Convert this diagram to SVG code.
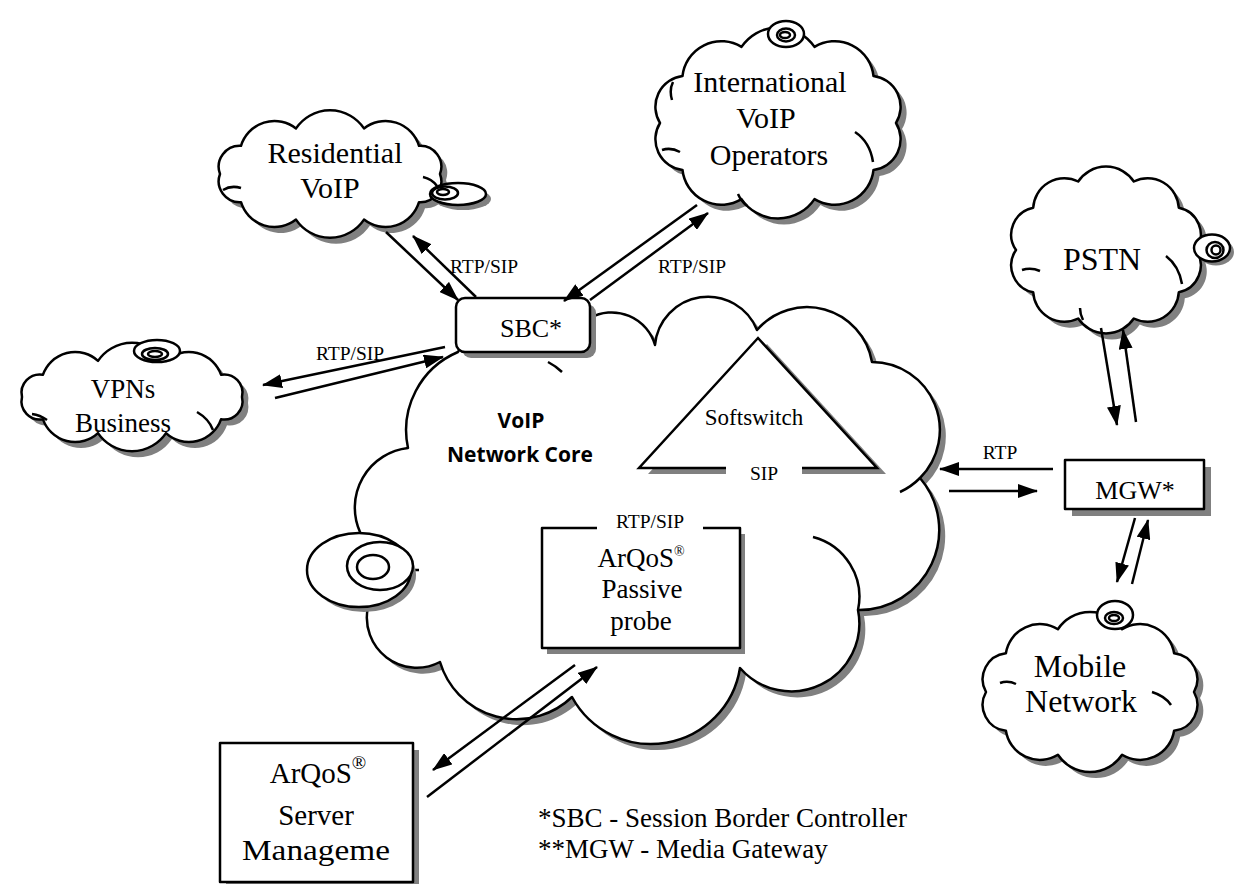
<svg xmlns="http://www.w3.org/2000/svg" xmlns:xlink="http://www.w3.org/1999/xlink" width="1238" height="884" viewBox="0 0 1238 884">
<style>
.w{fill:#fff;stroke:#000;stroke-width:2.5;stroke-linejoin:round}
.sh{fill:#808080;stroke:none}
.ln{stroke:#000;stroke-width:2.5;fill:none}
.lnA{stroke:#000;stroke-width:2.5;fill:none;marker-end:url(#ah)}
.t{font-family:"Liberation Serif","Times New Roman",serif;fill:#000;text-anchor:middle}
.b{font-family:"Open Sans","DejaVu Sans",sans-serif;font-weight:700;fill:#000;text-anchor:middle}
</style>
<defs>
<marker id="ah" viewBox="0 0 20 14" refX="19" refY="7" markerWidth="20" markerHeight="14" markerUnits="userSpaceOnUse" orient="auto"><path d="M0,0 L20,7 L0,14 Z" fill="#000"/></marker>
<path id="c-core" d="M590,318 A45 45 0 0 1 655,345 A53 53 0 0 1 757,330 A66 66 0 0 1 872,362 A68 68 0 0 1 920,478 A80 80 0 0 1 858,610 A68 68 0 0 1 740,668 A90 90 0 0 1 572,697 A80 80 0 0 1 440,662 A50 50 0 0 1 368,607 L360,532 A60 60 0 0 1 408,448 A85 85 0 0 1 458,352 L470,330 Z"/>
<path id="c-res" d="M440,174 A21 21 0 0 1 419,202.2 A35 35 0 0 1 364,219.6 A41 41 0 0 1 296,219.6 A35 35 0 0 1 241,202.2 A21 21 0 0 1 220,174 A21 21 0 0 1 241,145.8 A35 35 0 0 1 296,128.4 A41 41 0 0 1 364,128.4 A35 35 0 0 1 419,145.8 A21 21 0 0 1 440,174 Z"/>
<path id="c-int" d="M896,123 A31 31 0 0 1 873.5,170 A39 39 0 0 1 814.5,199.1 A44 44 0 0 1 741.5,199.1 A39 39 0 0 1 682.5,170 A31 31 0 0 1 660,123 A31 31 0 0 1 682.5,76 A39 39 0 0 1 741.5,46.9 A44 44 0 0 1 814.5,46.9 A39 39 0 0 1 873.5,76 A31 31 0 0 1 896,123 Z"/>
<path id="c-vpn" d="M242,397 A18.4 18.4 0 0 1 221,419.3 A34 34 0 0 1 166,433.1 A41 41 0 0 1 98,433.1 A34 34 0 0 1 43,419.3 A18.4 18.4 0 0 1 22,397 A18.4 18.4 0 0 1 43,374.7 A34 34 0 0 1 98,360.9 A41 41 0 0 1 166,360.9 A34 34 0 0 1 221,374.7 A18.4 18.4 0 0 1 242,397 Z"/>
<path id="c-pstn" d="M1196,250 A27.4 27.4 0 0 1 1178.8,292.3 A31.2 31.2 0 0 1 1133.8,318.5 A33.4 33.4 0 0 1 1078.2,318.5 A31.2 31.2 0 0 1 1033.2,292.3 A27.4 27.4 0 0 1 1016,250 A27.4 27.4 0 0 1 1033.2,207.7 A31.2 31.2 0 0 1 1078.2,181.5 A33.4 33.4 0 0 1 1133.8,181.5 A31.2 31.2 0 0 1 1178.8,207.7 A27.4 27.4 0 0 1 1196,250 Z"/>
<path id="c-mob" d="M1194,692 A26.2 26.2 0 0 1 1174.1,730.8 A34.4 34.4 0 0 1 1122.1,754.8 A38.5 38.5 0 0 1 1057.9,754.8 A34.4 34.4 0 0 1 1005.9,730.8 A26.2 26.2 0 0 1 986,692 A26.2 26.2 0 0 1 1005.9,653.2 A34.4 34.4 0 0 1 1057.9,629.2 A38.5 38.5 0 0 1 1122.1,629.2 A34.4 34.4 0 0 1 1174.1,653.2 A26.2 26.2 0 0 1 1194,692 Z"/>
</defs>
<rect width="1238" height="884" fill="#fff"/>

<g id="core">
<use xlink:href="#c-core" href="#c-core" class="sh" transform="translate(6,6)"/>
<use xlink:href="#c-core" href="#c-core" class="w"/>
<path class="ln" d="M548,362 A60 60 0 0 1 562,372 M813,537 A62 62 0 0 1 858,610 M920,478 A68 68 0 0 1 900,492 M411,570 L419,570"/>
<ellipse class="sh" cx="364" cy="575" rx="52" ry="37"/>
<ellipse class="w" cx="359" cy="570" rx="52" ry="37"/>
<ellipse class="w" cx="380" cy="566" rx="33" ry="24"/>
<ellipse class="w" cx="373" cy="567" rx="16" ry="12"/>
<text class="b" x="521" y="428" font-size="21">VoIP</text>
<text class="b" x="520" y="462" font-size="21">Network Core</text>
</g>

<g id="softswitch">
<polygon class="sh" points="767,344 886,474 648,474"/>
<polygon points="758,338 877,468 639,468" fill="#fff"/>
<rect x="726" y="462" width="76" height="18" fill="#fff"/>
<polyline class="ln" points="726,468 639,468 758,338 877,468 802,468"/>
<text class="t" x="754" y="425" font-size="23">Softswitch</text>
<text class="t" x="764" y="480" font-size="19.5">SIP</text>
</g>

<g id="residential">
<use xlink:href="#c-res" href="#c-res" class="sh" transform="translate(6,6)"/>
<use xlink:href="#c-res" href="#c-res" class="w"/>
<path class="ln" d="M223,190 Q231,185 241,188 M423,177 Q432,179 437,186"/>
<ellipse class="sh" cx="463" cy="199" rx="28" ry="11"/>
<ellipse class="w" cx="458" cy="194" rx="28" ry="11"/>
<ellipse class="w" cx="445" cy="193" rx="13" ry="6.5"/>
<ellipse class="w" cx="443" cy="192" rx="6" ry="3"/>
<text class="t" x="335" y="163" font-size="30">Residential</text>
<text class="t" x="330" y="198" font-size="30">VoIP</text>
</g>

<g id="international">
<use xlink:href="#c-int" href="#c-int" class="sh" transform="translate(6,6)"/>
<use xlink:href="#c-int" href="#c-int" class="w"/>
<path class="ln" d="M855,132 Q870,142 873,162 M662,150 Q671,147 680,152 M738,194 Q741,201 747,206 M672,100 Q669,90 673,82"/>
<ellipse class="w" cx="786" cy="34" rx="18" ry="13"/>
<ellipse class="w" cx="786" cy="35" rx="9" ry="6.5"/>
<ellipse class="w" cx="785" cy="35" rx="5" ry="3"/>
<text class="t" x="770" y="92" font-size="30">International</text>
<text class="t" x="766" y="128" font-size="30">VoIP</text>
<text class="t" x="769" y="165" font-size="30">Operators</text>
</g>

<g id="vpns">
<use xlink:href="#c-vpn" href="#c-vpn" class="sh" transform="translate(6,6)"/>
<use xlink:href="#c-vpn" href="#c-vpn" class="w"/>
<path class="ln" d="M197,412 Q209,419 213,430 M32,414 Q40,415 47,420"/>
<ellipse class="w" cx="157" cy="351" rx="23" ry="11"/>
<ellipse class="w" cx="155" cy="354" rx="13" ry="6"/>
<ellipse class="w" cx="155" cy="354" rx="7" ry="3"/>
<text class="t" x="123" y="398" font-size="27">VPNs</text>
<text class="t" x="123" y="432" font-size="27">Business</text>
</g>

<g id="pstn">
<use xlink:href="#c-pstn" href="#c-pstn" class="sh" transform="translate(6,6)"/>
<use xlink:href="#c-pstn" href="#c-pstn" class="w"/>
<path class="ln" d="M1166,256 Q1179,266 1182,284 M1022,270 Q1031,267 1040,271 M1080,308 Q1080,314 1083,320"/>
<ellipse class="sh" cx="1216" cy="252" rx="18" ry="13.5"/>
<ellipse class="w" cx="1212" cy="248" rx="18" ry="13.5"/>
<ellipse class="w" cx="1215" cy="250" rx="8.5" ry="8"/>
<ellipse class="w" cx="1216" cy="250" rx="4.5" ry="4.5"/>
<text class="t" x="1102" y="270" font-size="32">PSTN</text>
</g>

<g id="mobile">
<use xlink:href="#c-mob" href="#c-mob" class="sh" transform="translate(6,6)"/>
<use xlink:href="#c-mob" href="#c-mob" class="w"/>
<path class="ln" d="M1152,692 Q1165,696 1171,705 M1000,683 Q1008,680 1016,684"/>
<ellipse class="w" cx="1115" cy="615" rx="18" ry="14"/>
<ellipse class="w" cx="1114" cy="618" rx="9" ry="6"/>
<ellipse class="w" cx="1114" cy="618" rx="5" ry="3"/>
<text class="t" x="1080" y="677" font-size="32">Mobile</text>
<text class="t" x="1081" y="712" font-size="32">Network</text>
</g>

<g id="sbc">
<rect class="sh" x="462" y="304" width="134" height="54" rx="9"/>
<rect class="w" x="456" y="298" width="134" height="54" rx="9"/>
<text class="t" x="531" y="337" font-size="26">SBC*</text>
</g>

<g id="mgw">
<rect class="sh" x="1072" y="467" width="139" height="49"/>
<rect class="w" x="1065" y="460" width="139" height="49"/>
<text class="t" x="1135" y="499" font-size="26">MGW*</text>
</g>

<g id="probe">
<rect class="sh" x="547" y="534" width="198" height="120"/>
<rect class="w" x="542" y="528" width="198" height="120"/>
<rect x="597" y="522" width="106" height="12" fill="#fff"/>
<text class="t" x="650" y="528" font-size="19.5">RTP/SIP</text>
<text class="t" x="641" y="567" font-size="27">ArQoS<tspan font-size="14" dy="-11">®</tspan></text>
<text class="t" x="642" y="598" font-size="27">Passive</text>
<text class="t" x="641" y="630" font-size="27">probe</text>
</g>

<g id="server">
<rect class="sh" x="226" y="750" width="193" height="139"/>
<rect class="w" x="220" y="743" width="193" height="139"/>
<text class="t" x="318" y="783" font-size="29">ArQoS<tspan font-size="19" dy="-14">®</tspan></text>
<text class="t" x="316" y="825" font-size="29">Server</text>
<text class="t" x="316" y="860" font-size="29" textLength="148" lengthAdjust="spacingAndGlyphs">Manageme</text>
</g>

<g id="connectors">
<line class="lnA" x1="386" y1="232" x2="458" y2="300"/>
<line class="lnA" x1="476" y1="297" x2="413" y2="236"/>
<line class="lnA" x1="697" y1="205" x2="564" y2="301"/>
<line class="lnA" x1="590" y1="300" x2="708" y2="213"/>
<line class="lnA" x1="445" y1="347" x2="263" y2="385"/>
<line class="lnA" x1="275" y1="398" x2="443" y2="357"/>
<line class="lnA" x1="1053" y1="469" x2="940" y2="469"/>
<line class="lnA" x1="949" y1="491" x2="1037" y2="491"/>
<line class="lnA" x1="1101" y1="328" x2="1117" y2="425"/>
<line class="lnA" x1="1136" y1="422" x2="1123" y2="330"/>
<line class="lnA" x1="1135" y1="518" x2="1117" y2="582"/>
<line class="lnA" x1="1132" y1="584" x2="1148" y2="520"/>
<line class="lnA" x1="575" y1="665" x2="433" y2="770"/>
<line class="lnA" x1="427" y1="797" x2="597" y2="667"/>
<text class="t" x="484" y="273" font-size="19.5">RTP/SIP</text>
<text class="t" x="692" y="273" font-size="19.5">RTP/SIP</text>
<text class="t" x="350" y="360" font-size="19.5">RTP/SIP</text>
<text class="t" x="1000" y="459" font-size="19.5">RTP</text>
</g>

<g id="legend">
<text font-family="'Liberation Serif','Times New Roman',serif" font-size="27" x="538" y="827">*SBC - Session Border Controller</text>
<text font-family="'Liberation Serif','Times New Roman',serif" font-size="27" x="538" y="858">**MGW - Media Gateway</text>
</g>
</svg>
